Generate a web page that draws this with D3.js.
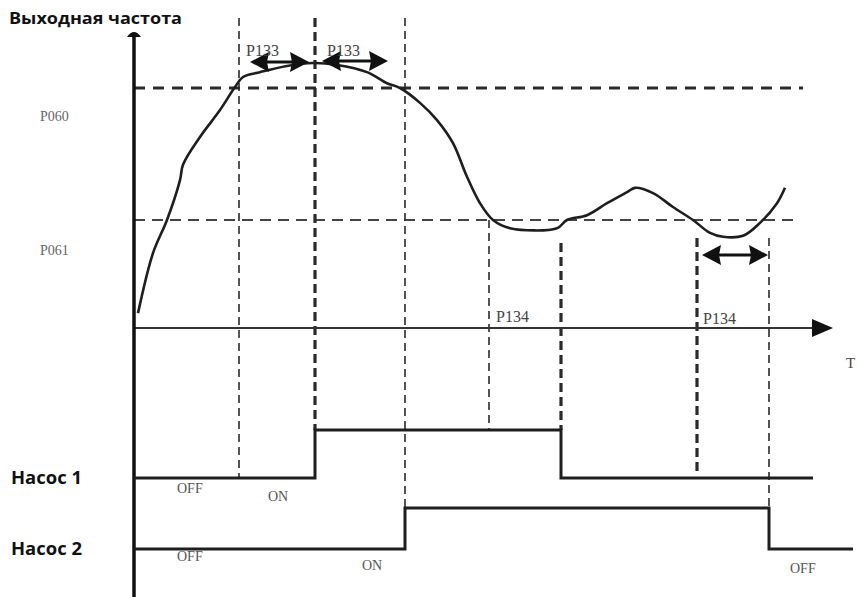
<!DOCTYPE html>
<html><head><meta charset="utf-8">
<script src="https://cdn.jsdelivr.net/npm/d3@7"></script>
<style>
html,body{margin:0;padding:0;background:#fff;}
svg{display:block;}
</style>
</head><body>
<svg id="c" width="857" height="597"></svg>
<script>
// ---- data ----
const timePoints = [0.8,3.8,6.6,9.2,9.8,13.2,17.2,20.2,21.8,25.2,30.6,35.8,40.6,46.6,50.6,53.2,57.2,60.6,63.8,66.6,69.2,71.8,75.2,84.6,86.6,90.6,94.6,98.6,100.2,103.8,107.8,111.8,115.2,117.8,121.8,125.2,128.6,130.2];
const frequency  = [3.1,15.6,22.5,30.8,34.0,39.8,45.4,50.2,52.3,53.3,54.6,55.2,54.8,53.3,51.0,50.0,46.9,43.3,38.5,31.5,26.0,22.5,20.8,20.8,22.5,23.5,26.0,28.3,29.2,28.1,25.2,22.5,19.8,19.0,19.2,21.9,26.0,29.2];
const thresholdNames = ["P060","P061"];
const thresholdValues = [50, 22.5];
const markerTimes = [21, 36.2, 54.2, 71, 85.4, 112.6, 127];
const pump1Times  = [0, 36.2, 85.4, 135.8];
const pump1States = [0, 1, 0, 0];
const pump2Times  = [0, 54.2, 127, 143.8];
const pump2States = [0, 1, 0, 0];
const pumpNames = ["Насос 1","Насос 2"];
const yTitle = "Выходная частота";
const xTitle = "T";

// ---- scales ----
const svg = d3.select("#c");
const x = d3.scaleLinear().domain([0,140]).range([134,834]);
const y = d3.scaleLinear().domain([0,60]).range([328,40]);
const p1 = d3.scaleLinear().domain([0,1]).range([478,430]);
const p2 = d3.scaleLinear().domain([0,1]).range([549,508]);
const ink = "#1e1e1e";
const grayText = "#666";

// horizontal threshold lines
svg.append("line").attr("x1",x(0)).attr("x2",803).attr("y1",y(thresholdValues[0])).attr("y2",y(thresholdValues[0]))
  .attr("stroke","#2a2a2a").attr("stroke-width",3).attr("stroke-dasharray","11,8");
svg.append("line").attr("x1",x(0)).attr("x2",794).attr("y1",y(thresholdValues[1])).attr("y2",y(thresholdValues[1]))
  .attr("stroke","#444").attr("stroke-width",2).attr("stroke-dasharray","11,7");

// vertical marker lines
const mk = [
  {y1:18, y2:p1(0), w:1.6, d:"8,5"},
  {y1:18, y2:p1(1), w:3.2, d:"9,5"},
  {y1:18, y2:p2(1), w:1.6, d:"8,5"},
  {y1:y(thresholdValues[1]), y2:p1(1), w:1.6, d:"8,5"},
  {y1:243, y2:p1(1), w:3.2, d:"9,5"},
  {y1:238, y2:472, w:3.2, d:"9,5"},
  {y1:238, y2:p2(0), w:1.6, d:"8,5"}
];
markerTimes.forEach((t,i)=>{
  svg.append("line").attr("x1",x(t)).attr("x2",x(t)).attr("y1",mk[i].y1).attr("y2",mk[i].y2)
    .attr("stroke","#2a2a2a").attr("stroke-width",mk[i].w).attr("stroke-dasharray",mk[i].d);
});

// x axis
svg.append("line").attr("x1",x(0)).attr("x2",815).attr("y1",y(0)).attr("y2",y(0))
  .attr("stroke","#333").attr("stroke-width",2);
svg.append("path").attr("d",`M812,${y(0)-9} L833,${y(0)} L812,${y(0)+9} Z`).attr("fill","#111");
svg.append("text").attr("x",846).attr("y",368).attr("font-family","Liberation Serif").attr("font-size",15).attr("fill","#444").text(xTitle);

// y axis
svg.append("line").attr("x1",x(0)).attr("x2",x(0)).attr("y1",34).attr("y2",597)
  .attr("stroke","#111").attr("stroke-width",3.5);
svg.append("path").attr("d",`M${x(0)-7},37 Q${x(0)},27 ${x(0)+7},37 Z`).attr("fill","#111");

// curve
const line = d3.line().x((d,i)=>x(timePoints[i])).y(d=>y(d)).curve(d3.curveCatmullRom.alpha(0.5));
svg.append("path").attr("d",line(frequency)).attr("fill","none").attr("stroke",ink).attr("stroke-width",2.6).attr("stroke-linejoin","round");

// pump step lines
function pumpPath(times, states, sc){
  return d3.line().x((d,i)=>x(times[i])).y(d=>sc(d)).curve(d3.curveStepAfter)(states);
}
svg.append("path").attr("d",pumpPath(pump1Times,pump1States,p1)).attr("fill","none").attr("stroke",ink).attr("stroke-width",3);
svg.append("path").attr("d",pumpPath(pump2Times,pump2States,p2)).attr("fill","none").attr("stroke",ink).attr("stroke-width",3);

// double arrows
function dblArrow(xa, xb, yy){
  const g = svg.append("g");
  g.append("line").attr("x1",xa+10).attr("x2",xb-10).attr("y1",yy).attr("y2",yy).attr("stroke","#111").attr("stroke-width",3);
  g.append("path").attr("d",`M${xa},${yy} L${xa+19},${yy-10} L${xa+17},${yy} L${xa+19},${yy+10} Z`).attr("fill","#111");
  g.append("path").attr("d",`M${xb},${yy} L${xb-19},${yy-10} L${xb-17},${yy} L${xb-19},${yy+10} Z`).attr("fill","#111");
}
dblArrow(x(23.2), x(35), 62);
dblArrow(x(37.6), x(50.8), 61);
dblArrow(x(113.6), x(126.8), 255);

// labels
const serif = "Liberation Serif";
[[246,56,"P133"],[327,56,"P133"],[496,322,"P134"],[703,324,"P134"]].forEach(a=>{
  svg.append("text").attr("x",a[0]).attr("y",a[1]).attr("font-family",serif).attr("font-size",16).attr("fill","#444").text(a[2]);
});
svg.append("text").attr("x",40).attr("y",121).attr("font-family",serif).attr("font-size",14).attr("fill",grayText).text(thresholdNames[0]);
svg.append("text").attr("x",40).attr("y",255).attr("font-family",serif).attr("font-size",14).attr("fill",grayText).text(thresholdNames[1]);
[[177,493,"OFF"],[268,501,"ON"],[177,561,"OFF"],[362,570,"ON"],[790,573,"OFF"]].forEach(a=>{
  svg.append("text").attr("x",a[0]).attr("y",a[1]).attr("font-family",serif).attr("font-size",14).attr("fill","#555").text(a[2]);
});
const sans = "Open Sans, Liberation Sans";
svg.append("text").attr("x",9).attr("y",24).attr("font-family",sans).attr("font-weight","bold").attr("font-size",16).attr("textLength",173).attr("lengthAdjust","spacingAndGlyphs").attr("fill","#111").text(yTitle);
svg.append("text").attr("x",11).attr("y",484).attr("font-family",sans).attr("font-weight","bold").attr("font-size",17).attr("textLength",71).attr("lengthAdjust","spacingAndGlyphs").attr("fill","#111").text(pumpNames[0]);
svg.append("text").attr("x",11).attr("y",555).attr("font-family",sans).attr("font-weight","bold").attr("font-size",17).attr("textLength",71).attr("lengthAdjust","spacingAndGlyphs").attr("fill","#111").text(pumpNames[1]);
</script>
</body></html>
